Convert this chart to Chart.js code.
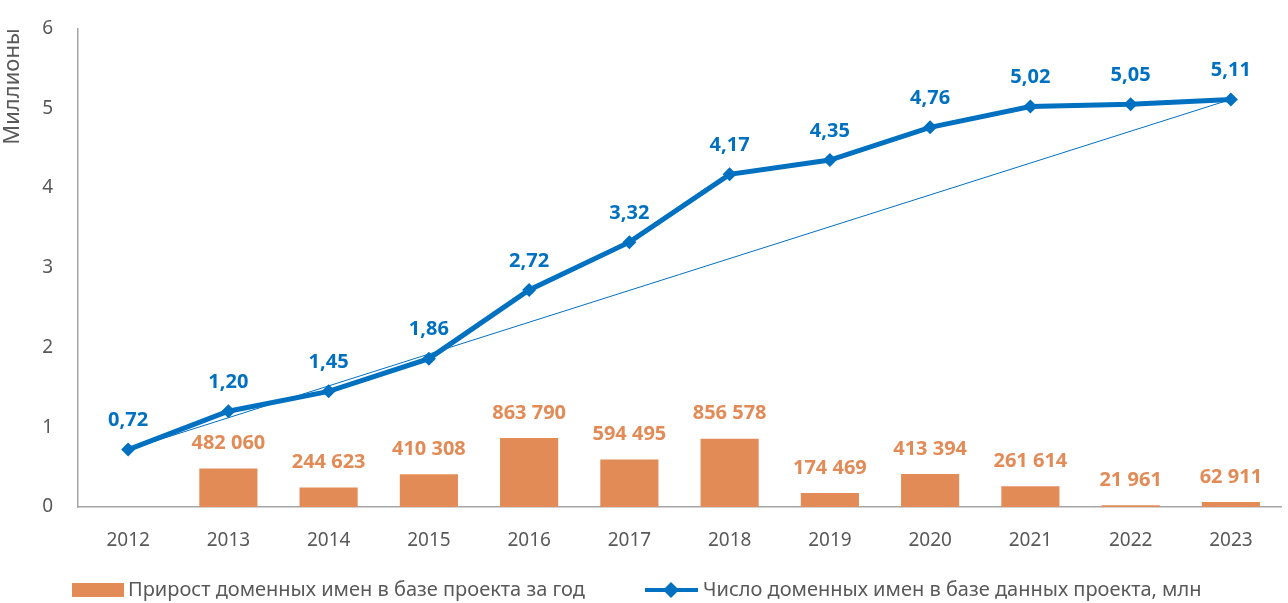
<!DOCTYPE html>
<html>
<head>
<meta charset="utf-8">
<script src="https://cdn.jsdelivr.net/npm/chart.js@4/dist/chart.umd.min.js"></script>
<style>
  html, body { margin: 0; padding: 0; background: #fff; }
  #wrap { width: 1288px; height: 603px; }
</style>
</head>
<body>
<div id="wrap"><canvas id="chart" width="1288" height="603"></canvas></div>
<script>
// данные
var years = ["2012", "2013", "2014", "2015", "2016", "2017", "2018", "2019", "2020", "2021", "2022", "2023"];
var totalMln = [0.72, 1.20, 1.45, 1.86, 2.72, 3.32, 4.17, 4.35, 4.76, 5.02, 5.05, 5.11];
var growth = [null, 482060, 244623, 410308, 863790, 594495, 856578, 174469, 413394, 261614, 21961, 62911];
var trend = [0.72, null, null, null, null, null, null, null, null, null, null, 5.11];
var yTicks = [0, 1, 2, 3, 4, 5, 6];

var seriesNames = ["Прирост доменных имен в базе проекта за год", "Число доменных имен в базе данных проекта, млн"];

var blue = "#0070C0";
var orange = "#E28B57";
var grey = "#595959";
var font = "'Noto Sans', sans-serif";

var growthMln = growth.map(function (v) { return v == null ? null : v / 1e6; });

function fmtGrowth(v) {
    return String(v).replace(/\B(?=(\d{3})+(?!\d))/g, " ");
}
function fmtTotal(v) {
    return v.toFixed(2).replace(".", ",");
}

// подписи над точками и столбцами
var labelsPlugin = {
    id: "labels",
    afterDatasetsDraw: function (chart) {
        var ctx = chart.ctx;
        ctx.save();
        ctx.textAlign = "center";
        ctx.textBaseline = "middle";
        ctx.font = "bold 20px " + font;

        var bars = chart.getDatasetMeta(0).data;
        ctx.fillStyle = orange;
        for (var i = 0; i < bars.length; i++) {
            if (growth[i] == null) continue;
            ctx.fillText(fmtGrowth(growth[i]), bars[i].x, bars[i].y - 25);
        }

        var pts = chart.getDatasetMeta(1).data;
        ctx.fillStyle = blue;
        for (var i = 0; i < pts.length; i++) {
            ctx.fillText(fmtTotal(totalMln[i]), pts[i].x, pts[i].y - 29);
        }
        ctx.restore();
    }
};

// легенда внизу
var legendPlugin = {
    id: "bottomLegend",
    afterDraw: function (chart) {
        var ctx = chart.ctx;
        var y = 590;
        ctx.save();
        ctx.font = "20px " + font;
        ctx.textBaseline = "middle";
        ctx.textAlign = "left";

        ctx.fillStyle = orange;
        ctx.fillRect(72, 583, 52, 14);
        ctx.fillStyle = grey;
        ctx.fillText(seriesNames[0], 128, y);

        ctx.strokeStyle = blue;
        ctx.lineWidth = 4;
        ctx.beginPath();
        ctx.moveTo(645, y);
        ctx.lineTo(698, y);
        ctx.stroke();
        ctx.fillStyle = blue;
        ctx.beginPath();
        ctx.moveTo(671, y - 8);
        ctx.lineTo(679, y);
        ctx.lineTo(671, y + 8);
        ctx.lineTo(663, y);
        ctx.closePath();
        ctx.fill();

        ctx.fillStyle = grey;
        ctx.fillText(seriesNames[1], 703, y);
        ctx.restore();
    }
};

var ctx = document.getElementById("chart");

var chart = new Chart(ctx, {
    type: "bar",
    data: {
        labels: years,
        datasets: [{
            type: "bar",
            label: seriesNames[0],
            data: growthMln,
            backgroundColor: orange,
            barPercentage: 0.58,
            categoryPercentage: 1,
            order: 2
        }, {
            type: "line",
            label: seriesNames[1],
            data: totalMln,
            borderColor: blue,
            backgroundColor: blue,
            borderWidth: 5,
            pointStyle: "rectRot",
            pointRadius: 7,
            pointBorderWidth: 0,
            tension: 0,
            order: 1
        }, {
            type: "line",
            label: "trend",
            data: trend,
            spanGaps: true,
            borderColor: blue,
            borderWidth: 1,
            pointRadius: 0,
            order: 0
        }]
    },
    options: {
        responsive: false,
        animation: false,
        layout: {
            padding: { left: 0, right: 0, top: 2, bottom: 50 }
        },
        plugins: {
            legend: { display: false },
            tooltip: { enabled: false }
        },
        scales: {
            x: {
                grid: { display: false },
                border: { color: "#a6a6a6", width: 1.5 },
                ticks: {
                    color: grey,
                    font: { family: font, size: 19 },
                    padding: 14
                },
                afterFit: function (s) { s.height = 46; }
            },
            y: {
                min: 0,
                max: 6,
                afterBuildTicks: function (s) {
                    s.ticks = yTicks.map(function (v) { return { value: v }; });
                },
                grid: { display: false },
                border: { color: "#a6a6a6", width: 1.5 },
                ticks: {
                    color: grey,
                    font: { family: font, size: 19 },
                    padding: 17
                },
                title: {
                    display: true,
                    text: "Миллионы",
                    align: "end",
                    color: grey,
                    font: { family: font, size: 22 },
                    padding: 0
                },
                afterFit: function (s) { s.width = 78; }
            }
        }
    },
    plugins: [labelsPlugin, legendPlugin]
});
</script>
</body>
</html>
